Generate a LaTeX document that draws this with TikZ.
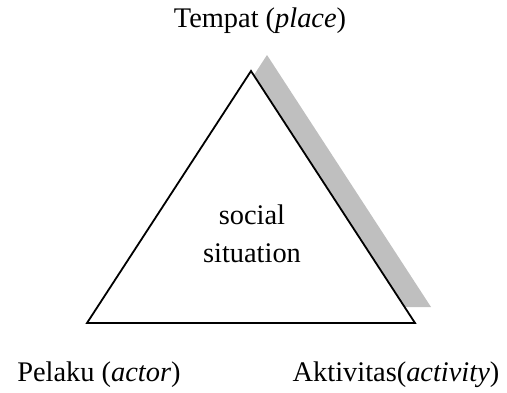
\documentclass[tikz,border=0pt]{standalone}
\usepackage{fontspec}
\setmainfont{Liberation Serif}
\tikzset{
  corner/.style={font=\fontsize{14.2}{19}\selectfont, anchor=base, inner sep=0pt},
  shadowcol/.style={fill=black!25}
}
\begin{document}
\begin{tikzpicture}[x=0.5pt,y=-0.5pt]
        \useasboundingbox (0,0) rectangle (507,392);
        % shadow, shifted up and right
        \fill[shadowcol] (267,55) -- (431,307) -- (103,307) -- cycle;
        \draw[line width=0.9pt,fill=white] (251,71) coordinate (top)
          -- (415,323) coordinate (right) -- (87,323) coordinate (left) -- cycle;
        \node[font=\fontsize{14.2}{19}\selectfont,align=center] (sit) at (252,234) {social\\situation};
        \node[corner] (place) at (260,27) {Tempat (\textit{place})};
        \node[corner] (actor) at (99,381) {Pelaku (\textit{actor})};
        \node[corner] (activity) at (396,381) {Aktivitas(\textit{activity})};
      \end{tikzpicture}
\end{document}
